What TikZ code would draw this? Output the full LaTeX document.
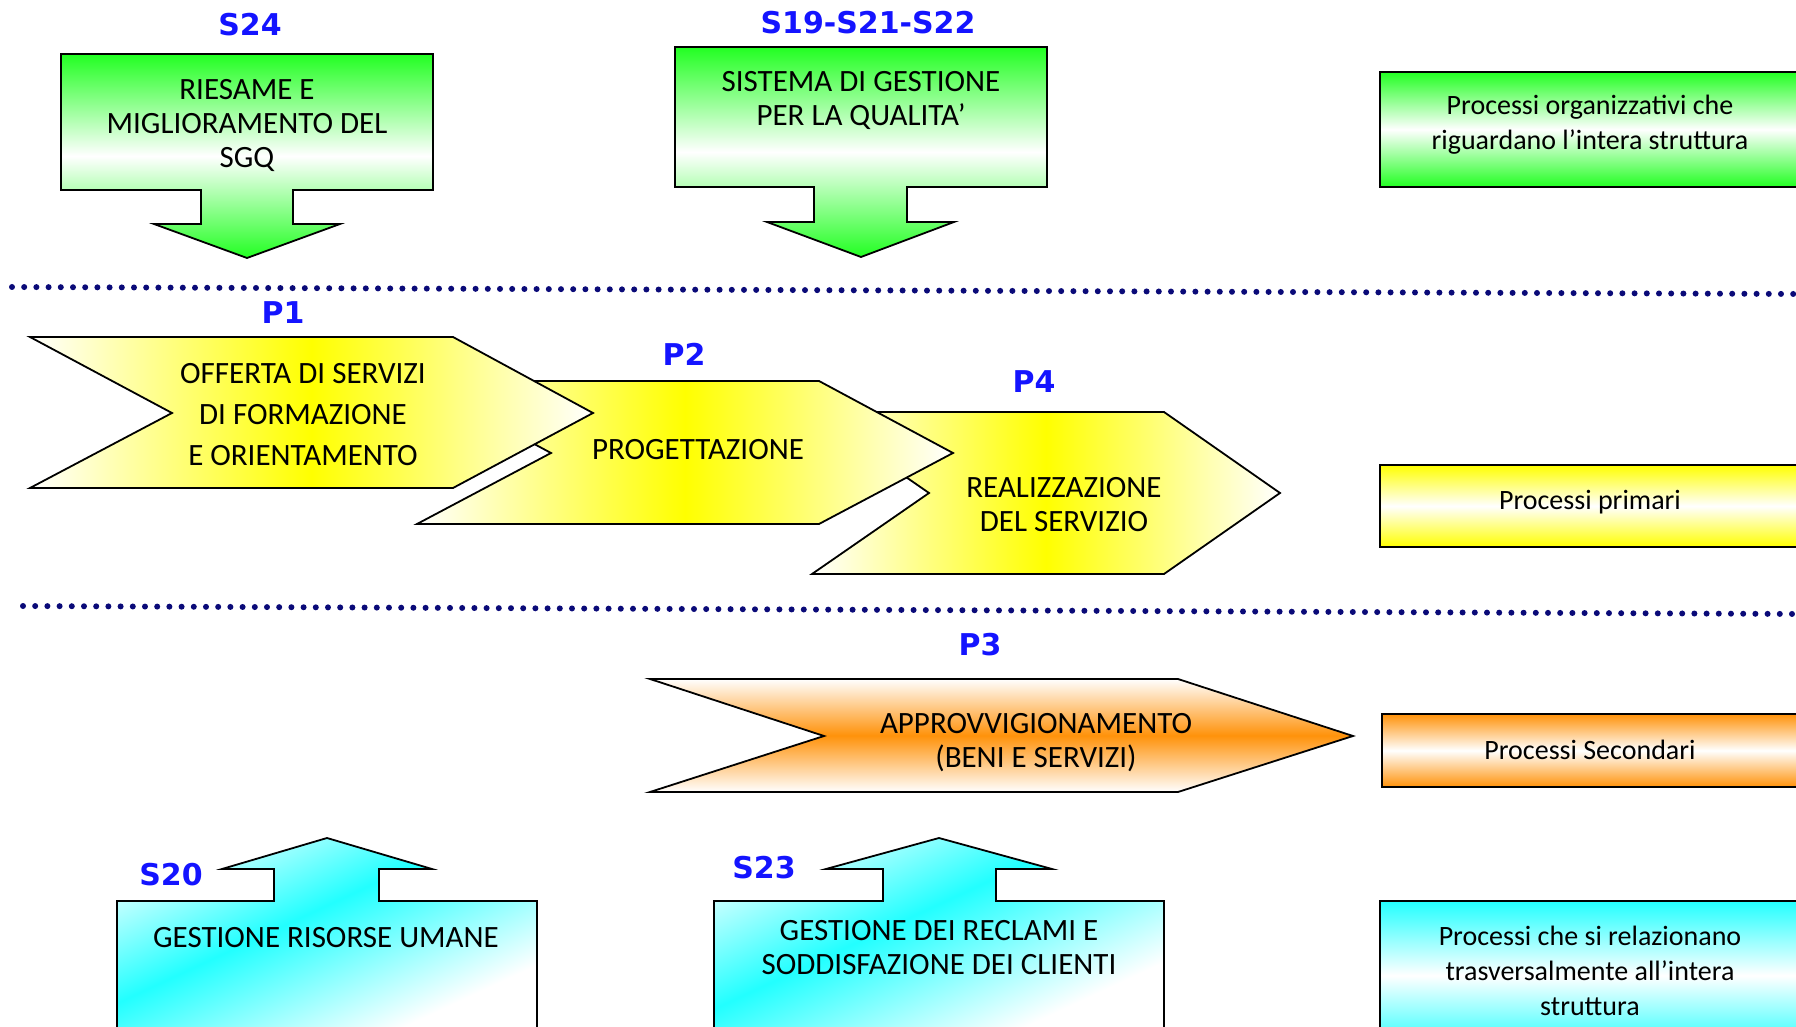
\documentclass[tikz,border=0pt]{standalone}
\usepackage{fontspec}
\setmainfont{Carlito}
\newfontfamily\codefont{DejaVu Sans}
\usepackage{tikz}
\usetikzlibrary{calc}

\definecolor{procgreen}{RGB}{34,255,34}
\definecolor{procyellow}{RGB}{255,255,0}
\definecolor{procorange}{RGB}{255,146,10}
\definecolor{proccyan}{RGB}{34,255,255}
\definecolor{palecyan}{RGB}{225,255,255}
\definecolor{codeblue}{RGB}{20,20,255}
\definecolor{dotnavy}{RGB}{10,10,120}
\pgfdeclareverticalshading{cyanband}{100bp}{color(0bp)=(white); color(30bp)=(white);
  color(56bp)=(proccyan); color(76bp)=(palecyan); color(100bp)=(palecyan)}

\begin{document}
\begin{tikzpicture}[x=0.5pt,y=-0.5pt]
    % Styles for shapes, texts and separators
    \tikzset{
      procline/.style={draw=black, line width=0.9pt, line join=miter},
      greenarrow/.style={procline, top color=procgreen, bottom color=procgreen, middle color=white},
      yellowchev/.style={procline, left color=white, right color=white, middle color=procyellow},
      orangechev/.style={procline, top color=white, bottom color=white, middle color=procorange},
      cyanarrow/.style={procline, shading=cyanband, shading angle=25},
      greenkey/.style={procline, top color=procgreen, bottom color=procgreen, middle color=white},
      yellowkey/.style={procline, top color=procyellow, bottom color=procyellow, middle color=white},
      orangekey/.style={procline, top color=procorange, bottom color=procorange, middle color=white},
      cyankey/.style={procline, top color=proccyan, bottom color=proccyan, middle color=white},
      boxtext/.style={font=\fontsize{15.5}{17}\selectfont, align=center, inner sep=0pt},
      keytext/.style={font=\fontsize{14}{17.5}\selectfont, align=center, inner sep=0pt},
      codelabel/.style={font=\codefont\bfseries\fontsize{15}{18}\selectfont, text=codeblue, inner sep=0pt},
      separator/.style={dotnavy, line width=3pt, line cap=round, dash pattern=on 0pt off 6.1pt}
    }
    \useasboundingbox (0,0) rectangle (1796,1027);

    % Separators
    \coordinate (sepAw) at (12,287);
    \coordinate (sepAe) at (1800,294);
    \coordinate (sepBw) at (23,606);
    \coordinate (sepBe) at (1800,614);
    \draw[separator] (sepAw) -- (sepAe);
    \draw[separator] (sepBw) -- (sepBe);

    % Organisational processes (down arrows)
    \filldraw[greenarrow] (61,54) -- (433,54) -- (433,190) -- (293,190) -- (293,224) -- (340,224)
      -- (247,258) -- (154,224) -- (201,224) -- (201,190) -- (61,190) -- cycle;
    \filldraw[greenarrow] (675,47) -- (1047,47) -- (1047,187) -- (907,187) -- (907,222) -- (954,222)
      -- (861,257) -- (767,222) -- (814,222) -- (814,187) -- (675,187) -- cycle;
    \node[boxtext] (riesame) at (247,125) {RIESAME E\\MIGLIORAMENTO DEL\\SGQ};
    \node[boxtext] (sistema) at (861,100) {SISTEMA DI GESTIONE\\PER LA QUALITA’};

    % Primary processes (chevrons, back to front)
    \filldraw[yellowchev] (812,412) -- (1164,412) -- (1280,493) -- (1164,574) -- (812,574) -- (929,493) -- cycle;
    \filldraw[yellowchev] (417,381) -- (819,381) -- (953,453) -- (819,524) -- (417,524) -- (551,453) -- cycle;
    \filldraw[yellowchev] (30,337) -- (453,337) -- (593,413) -- (453,488) -- (30,488) -- (172,413) -- cycle;
    \node[boxtext, font=\fontsize{15.5}{20.5}\selectfont] (offerta) at (303,415) {OFFERTA DI SERVIZI\\DI FORMAZIONE\\E ORIENTAMENTO};
    \node[boxtext] (progetta) at (698,450) {PROGETTAZIONE};
    \node[boxtext] (realizza) at (1064,505) {REALIZZAZIONE\\DEL SERVIZIO};

    % Secondary process
    \filldraw[orangechev] (650,679) -- (1178,679) -- (1353,736) -- (1178,792) -- (650,792) -- (824,736) -- cycle;
    \node[boxtext] (approvv) at (1036,743) {APPROVVIGIONAMENTO\\(BENI E SERVIZI)};

    % Transversal processes (up arrows)
    \filldraw[cyanarrow] (117,1045) -- (117,901) -- (274,901) -- (274,869) -- (222,869) -- (327,838)
      -- (432,869) -- (379,869) -- (379,901) -- (537,901) -- (537,1045) -- cycle;
    \filldraw[cyanarrow] (714,1045) -- (714,901) -- (883,901) -- (883,869) -- (826,869) -- (939,838)
      -- (1052,869) -- (996,869) -- (996,901) -- (1164,901) -- (1164,1045) -- cycle;
    \node[boxtext] (risorse) at (326,938) {GESTIONE RISORSE UMANE};
    \node[boxtext] (reclami) at (939,948) {GESTIONE DEI RECLAMI E\\SODDISFAZIONE DEI CLIENTI};

    % Legend
    \filldraw[greenkey] (1380,72) rectangle (1805,187);
    \filldraw[yellowkey] (1380,465) rectangle (1805,547);
    \filldraw[orangekey] (1382,714) rectangle (1805,787);
    \filldraw[cyankey] (1380,901) rectangle (1805,1050);
    \node[keytext] (keyorg) at (1590,125) {Processi organizzativi che\\riguardano l’intera struttura};
    \node[keytext] (keyprim) at (1590,502) {Processi primari};
    \node[keytext] (keysec) at (1590,750) {Processi Secondari};
    \node[keytext] (keytrans) at (1590,971) {Processi che si relazionano\\trasversalmente all’intera\\struttura};

    % Process codes
    \node[codelabel] (s24) at (250,25) {S24};
    \node[codelabel] (s19) at (868,23) {S19-S21-S22};
    \node[codelabel] (p1) at (283,313) {P1};
    \node[codelabel] (p2) at (684,354) {P2};
    \node[codelabel] (p4) at (1034,382) {P4};
    \node[codelabel] (p3) at (980,645) {P3};
    \node[codelabel] (s20) at (171,875) {S20};
    \node[codelabel] (s23) at (764,868) {S23};
\end{tikzpicture}
\end{document}
